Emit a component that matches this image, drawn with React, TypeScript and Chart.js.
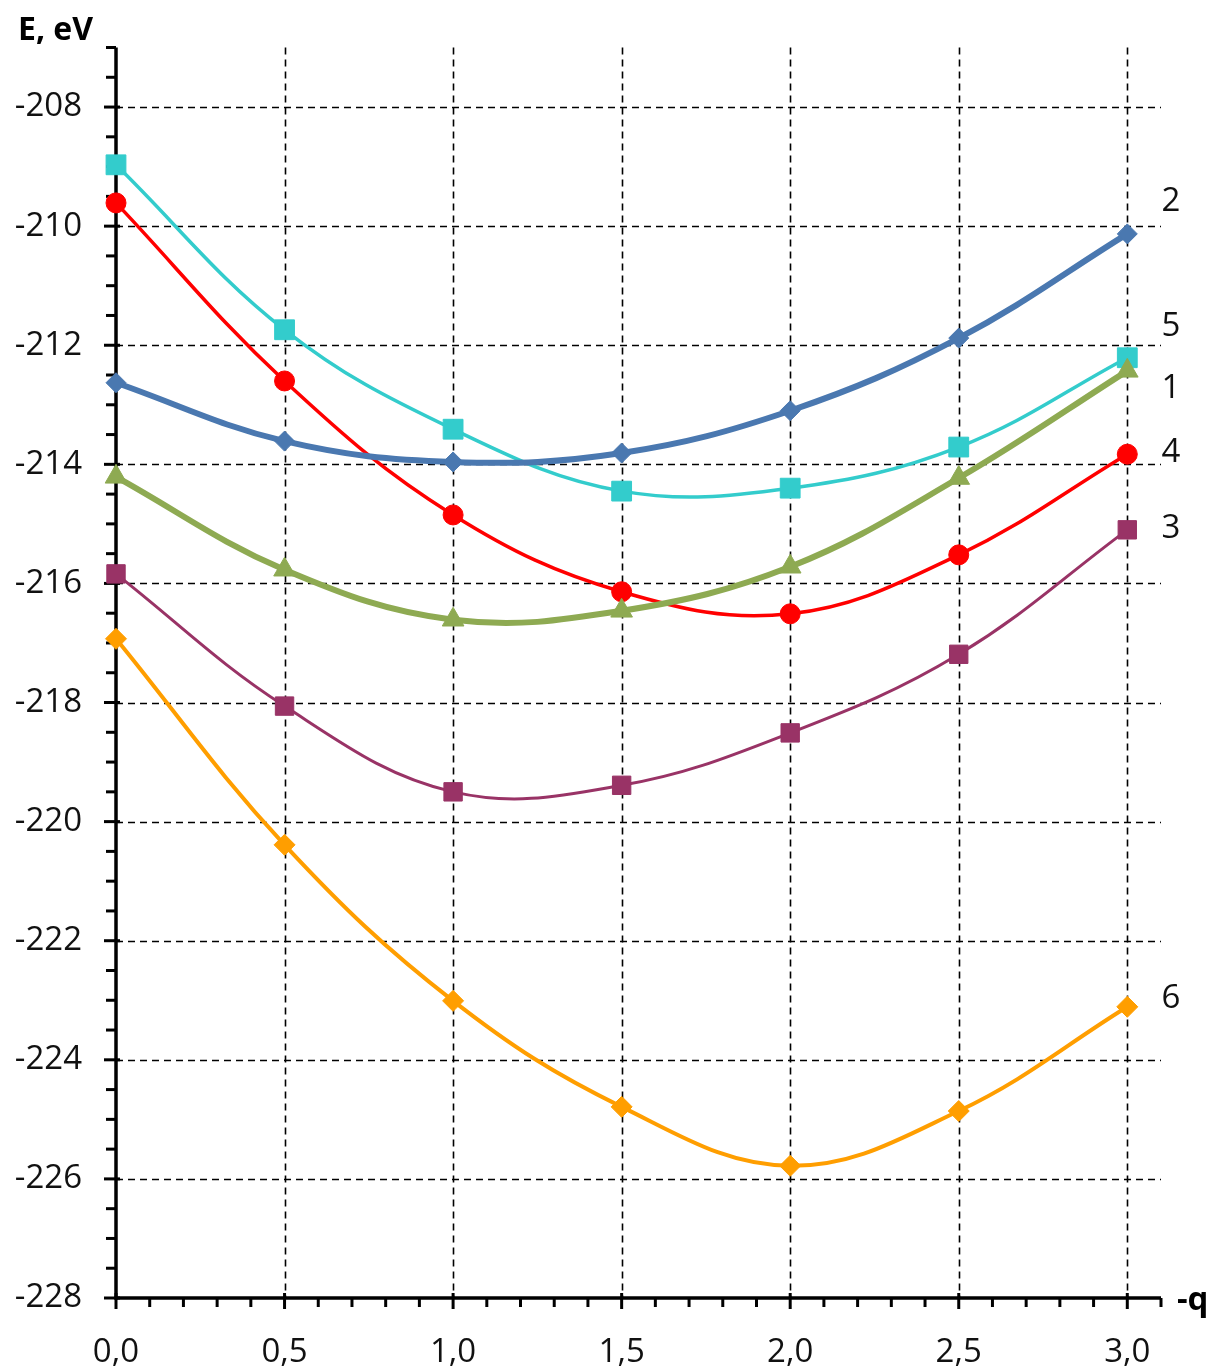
import React, { useEffect, useRef } from 'react';
import { Chart, registerables } from 'chart.js';
Chart.register(...registerables);

// q values (x axis, "-q")
const qValues = [0, 0.5, 1.0, 1.5, 2.0, 2.5, 3.0];
// Energies (eV) for each curve
const curve1 = [-214.21, -215.77, -216.61, -216.46, -215.72, -214.23, -212.43];
const curve2 = [-212.63, -213.61, -213.96, -213.81, -213.10, -211.88, -210.13];
const curve3 = [-215.84, -218.06, -219.50, -219.39, -218.51, -217.19, -215.10];
const curve4 = [-209.61, -212.60, -214.85, -216.14, -216.51, -215.52, -213.83];
const curve5 = [-208.97, -211.74, -213.41, -214.45, -214.40, -213.71, -212.21];
const curve6 = [-216.93, -220.39, -223.01, -224.79, -225.78, -224.86, -223.11];
const curveNames = ['1', '2', '3', '4', '5', '6'];

const xTickValues = [0, 0.5, 1.0, 1.5, 2.0, 2.5, 3.0];
const yTickValues = [-228, -226, -224, -222, -220, -218, -216, -214, -212, -210, -208];
const X_MIN = 0;
const X_MAX = 3.1;
const Y_MIN = -228;
const Y_MAX = -207;

const FONT = '"Open Sans", "Noto Sans", sans-serif';
const TEXT = '#111111';

const axesPlugin = {
  id: 'excelAxes',
  beforeDatasetsDraw(chart: any) {
    const { ctx, chartArea: a, scales } = chart;
    const x = scales.x;
    const y = scales.y;
    const line = (x1: number, y1: number, x2: number, y2: number) => {
      ctx.beginPath();
      ctx.moveTo(x1, y1);
      ctx.lineTo(x2, y2);
      ctx.stroke();
    };
    ctx.save();
    // dashed grid
    ctx.strokeStyle = '#000';
    ctx.lineWidth = 1.6;
    ctx.setLineDash([7, 5]);
    for (const v of xTickValues) {
      if (v === X_MIN) continue;
      const px = Math.round(x.getPixelForValue(v)) + 0.5;
      line(px, a.top, px, a.bottom);
    }
    for (const v of yTickValues) {
      if (v === Y_MIN) continue;
      const py = Math.round(y.getPixelForValue(v)) + 0.5;
      line(a.left, py, a.right, py);
    }
    ctx.setLineDash([]);
    // x ticks (minor every 0.1, major every 0.5)
    ctx.lineWidth = 3;
    for (let i = 0; i <= 31; i++) {
      const v = X_MIN + i * 0.1;
      const px = x.getPixelForValue(v);
      const major = i % 5 === 0;
      line(px, a.bottom - (major ? 5 : 0), px, a.bottom + (major ? 11 : 9));
    }
    // y ticks (minor every 0.5, major every 2)
    for (let i = 0; i <= 42; i++) {
      const v = Y_MIN + i * 0.5;
      const py = y.getPixelForValue(v);
      const major = i % 4 === 0;
      line(a.left - (major ? 12 : 10), py, a.left + (major ? 4 : 0), py);
    }
    // axis lines
    ctx.lineWidth = 3.5;
    line(a.left, a.top, a.left, a.bottom + 1.5);
    line(a.left - 1.5, a.bottom, a.right, a.bottom);
    ctx.restore();
  },
  afterDraw(chart: any) {
    const { ctx, chartArea: a, scales } = chart;
    const y = scales.y;
    ctx.save();
    ctx.fillStyle = '#000';
    ctx.font = `bold 32px ${FONT}`;
    ctx.textAlign = 'left';
    ctx.textBaseline = 'alphabetic';
    ctx.fillText('E, eV', 18, 40);
    ctx.font = `bold 33px ${FONT}`;
    ctx.fillText('-q', 1177, 1310);
    // curve labels at right end
    ctx.font = `33px ${FONT}`;
    ctx.fillStyle = TEXT;
    ctx.textAlign = 'center';
    ctx.textBaseline = 'middle';
    chart.data.datasets.forEach((ds: any) => {
      const last = ds.data[ds.data.length - 1];
      const py = y.getPixelForValue(last.y) + ds.labelDy;
      ctx.fillText(ds.label, a.right + 10, py);
    });
    ctx.restore();
  },
};

function toPoints(vals: number[]) {
  return qValues.map((q, i) => ({ x: q, y: vals[i] }));
}

export default function App() {
  const ref = useRef<HTMLCanvasElement>(null);
  useEffect(() => {
    if (!ref.current) return;
    const mk = (
      label: string,
      vals: number[],
      color: string,
      width: number,
      style: string,
      radius: number,
      labelDy: number
    ) => ({
      label,
      data: toPoints(vals),
      borderColor: color,
      backgroundColor: color,
      borderWidth: width,
      pointStyle: style,
      pointRadius: radius,
      pointHoverRadius: radius,
      pointBackgroundColor: color,
      pointBorderColor: color,
      pointBorderWidth: 1,
      tension: 0.38,
      clip: false,
      labelDy,
    });
    const chart = new Chart(ref.current, {
      type: 'line',
      data: {
        datasets: [
          mk(curveNames[1], curve2, '#4a78b0', 6, 'rectRot', 10, -32),
          mk(curveNames[0], curve1, '#8eaa52', 6, 'triangle', 12.5, 18),
          mk(curveNames[4], curve5, '#33cccc', 3.5, 'rect', 14, -31),
          mk(curveNames[3], curve4, '#ff0000', 3.5, 'circle', 10, -2),
          mk(curveNames[2], curve3, '#993366', 3, 'rect', 13, -1),
          mk(curveNames[5], curve6, '#ff9e00', 4, 'rectRot', 10.5, -8),
        ] as any,
      },
      options: {
        animation: false,
        responsive: false,
        events: [],
        layout: { padding: { top: 47.5, right: 55, left: 0, bottom: 0 } },
        plugins: { legend: { display: false }, tooltip: { enabled: false } },
        scales: {
          x: {
            type: 'linear',
            min: X_MIN,
            max: X_MAX,
            afterBuildTicks: (s: any) => {
              s.ticks = xTickValues.map((v) => ({ value: v }));
            },
            afterFit: (s: any) => {
              s.height = 71;
              s.paddingLeft = 0;
              s.paddingRight = 0;
            },
            grid: { display: false, drawTicks: false },
            border: { display: false },
            ticks: {
              padding: 35,
              autoSkip: false,
              maxRotation: 0,
              color: TEXT,
              font: { family: FONT, size: 33 },
              callback: (v: any) => Number(v).toFixed(1).replace('.', ','),
            },
          },
          y: {
            type: 'linear',
            min: Y_MIN,
            max: Y_MAX,
            afterBuildTicks: (s: any) => {
              s.ticks = yTickValues.map((v) => ({ value: v }));
            },
            afterFit: (s: any) => {
              s.width = 116;
              s.paddingTop = 0;
              s.paddingBottom = 0;
            },
            grid: { display: false, drawTicks: false },
            border: { display: false },
            ticks: {
              padding: 34,
              autoSkip: false,
              color: TEXT,
              font: { family: FONT, size: 33 },
              callback: (v: any) => String(v),
            },
          },
        },
      },
      plugins: [axesPlugin],
    } as any);
    return () => chart.destroy();
  }, []);
  return (
    <div style={{ position: 'absolute', left: 0, top: 0, width: 1216, height: 1369, background: '#fff' }}>
      <canvas ref={ref} width={1216} height={1369} style={{ width: 1216, height: 1369, display: 'block' }} />
    </div>
  );
}
